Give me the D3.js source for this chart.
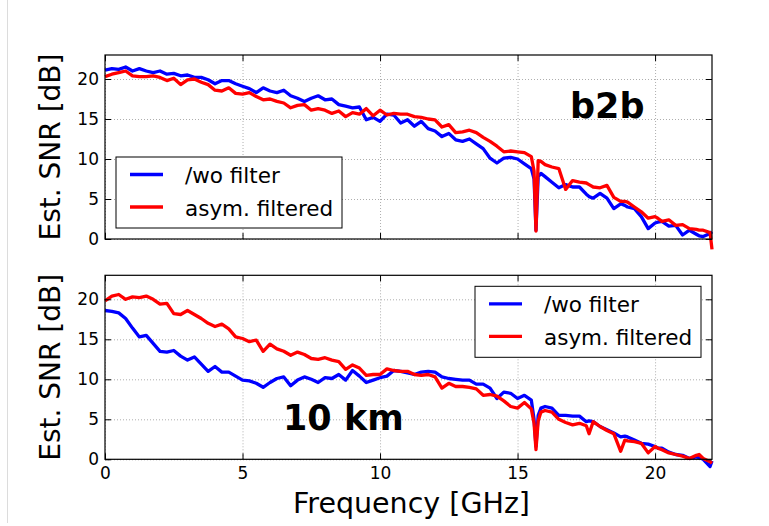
<!DOCTYPE html>
<html>
<head>
<meta charset="utf-8">
<script src="https://cdn.jsdelivr.net/npm/d3@7"></script>
<style>
  body { margin: 0; background: #fff; }
  svg { font-family: "DejaVu Sans", sans-serif; }
</style>
</head>
<body>
<div id="chart"></div>
<script>
// frequency grid [GHz] shared by all four curves
const freq = [0,0.25,0.5,0.75,1,1.25,1.5,1.75,2,2.25,2.5,2.75,3,3.25,3.5,3.75,4,4.25,4.5,4.75,
  5,5.25,5.5,5.75,6,6.25,6.5,6.75,7,7.25,7.5,7.75,8,8.25,8.5,8.75,9,9.25,9.5,9.75,
  10,10.25,10.5,10.75,11,11.25,11.5,11.75,12,12.25,12.5,12.75,13,13.25,13.5,13.75,14,14.25,14.5,14.75,
  15,15.25,15.5,15.6,15.67,15.75,15.85,16,16.25,16.5,16.75,17,17.25,17.5,17.6,17.75,18,18.25,18.5,18.75,
  18.9,19,19.25,19.5,19.75,20,20.1,20.25,20.5,20.75,21,21.25,21.5,21.6,21.75,22,22.07];

// b2b
const b2bWo = [21.1,21.3,21.2,21.5,21.0,21.3,21.0,20.8,21.0,20.6,20.7,20.4,20.5,20.2,20.2,19.9,19.4,19.8,19.8,19.4,
  19.1,18.8,18.3,18.9,18.5,18.3,18.6,17.9,17.6,17.2,17.6,17.9,17.4,17.5,16.8,16.6,16.4,16.5,14.9,15.2,
  14.7,15.6,15.5,14.5,14.9,14.1,14.7,13.8,13.5,12.8,13.2,12.4,12.2,12.5,11.9,11.3,10.1,9.5,10.1,10.2,
  10.0,9.4,8.8,7.5,1.1,7.8,8.2,7.8,7.1,6.4,6.8,6.5,6.5,5.6,5.3,5.1,5.7,5.1,3.8,4.4,
  4.2,4.0,3.8,2.8,1.3,2.0,2.1,2.2,1.6,1.7,0.5,1.1,0.6,0.4,0.3,0.7,0.9];
const b2bAsym = [20.3,20.6,20.8,21.0,20.4,20.3,20.3,20.4,20.2,19.8,20.1,19.3,19.9,20.0,19.6,19.3,18.6,18.5,18.9,18.2,
  18.1,18.3,17.8,17.4,17.5,17.2,17.0,16.4,16.7,16.8,16.1,16.3,16.1,15.7,16.0,15.3,15.8,15.6,16.3,15.4,
  16.1,15.5,15.7,15.6,15.6,15.3,15.2,15.0,14.9,14.0,14.3,13.3,13.4,13.6,13.3,12.7,12.2,11.6,10.9,11.0,
  10.9,10.8,10.3,8.5,1.0,9.8,9.7,9.3,9.0,8.8,6.2,7.3,7.1,7.0,6.8,6.5,6.4,6.7,5.2,4.7,
  4.7,4.6,4.0,3.4,2.6,2.8,2.6,2.2,2.4,1.7,1.8,1.3,1.2,1.1,1.1,0.8,-1.3];

// 10 km
const kmWo = [18.6,18.5,18.3,17.6,16.4,15.3,15.5,14.5,13.5,13.4,13.6,12.9,12.4,12.8,11.9,11.0,11.6,10.9,10.9,10.4,
  9.9,9.8,9.5,9.0,9.6,10.1,10.3,9.2,9.9,10.3,10.0,9.6,10.2,10.1,10.6,9.9,11.1,10.4,9.6,9.9,
  10.2,10.4,11.1,11.0,10.8,10.6,10.9,11.0,10.9,10.3,10.1,10.0,9.9,9.9,9.4,9.4,8.9,7.6,8.4,8.25,
  7.6,8.0,7.4,5.0,1.6,5.5,6.4,6.6,6.4,5.5,5.5,5.4,5.4,4.7,4.8,4.7,4.1,3.7,3.3,2.8,
  2.9,2.8,2.4,2.0,1.9,1.6,1.4,1.4,0.9,0.6,0.5,0.1,0.3,0.2,0.0,-0.9,-0.2];
const kmAsym = [19.8,20.4,20.6,20.0,20.3,20.2,20.4,20.0,19.4,19.5,18.2,18.1,18.6,18.1,17.6,17.0,16.6,16.9,16.3,15.3,
  15.1,14.7,14.9,13.5,14.4,13.8,13.5,13.0,13.4,13.1,12.6,12.5,12.7,12.4,12.2,11.25,11.8,11.4,10.5,10.6,
  10.6,11.3,11.1,11.0,11.0,10.6,10.5,10.6,10.3,8.9,9.5,9.1,9.1,9.0,8.8,8.0,8.1,7.9,7.3,6.6,
  6.4,7.1,6.3,4.5,1.2,4.8,5.9,6.1,5.9,5.0,4.6,4.3,4.5,4.2,3.2,4.7,4.1,3.6,3.2,1.0,
  2.4,2.3,2.2,2.0,0.8,1.6,1.4,1.2,0.8,0.6,0.4,0.1,0.5,0.6,0.1,-0.3,-0.5];

const seriesNames = ['/wo filter', 'asym. filtered'];
const seriesColors = ['#0000ff', '#ff0000'];
const xTicks = [0, 5, 10, 15, 20];
const yTicks = [0, 5, 10, 15, 20];

const width = 769, height = 526;
const margin = { left: 105, right: 57 };
const innerWidth = width - margin.left - margin.right;
const panelH = 184;

const svg = d3.select('#chart').append('svg')
  .attr('width', width)
  .attr('height', height);

// faint figure edge on the left
svg.append('line')
  .attr('x1', 7.5).attr('x2', 7.5).attr('y1', 0).attr('y2', 523)
  .attr('stroke', '#dcdcdc').attr('stroke-width', 1);

const xScale = d3.scaleLinear().domain([0, 22.07]).range([0, innerWidth]);
const yScale = d3.scaleLinear().domain([0, 23]).range([panelH, 0]);

const drawPanel = (top, wo, asym, opts) => {
  const g = svg.append('g').attr('transform', `translate(${margin.left},${top})`);

  // dotted grid
  const gx = g.append('g').attr('transform', `translate(0,${panelH})`)
    .call(d3.axisBottom(xScale).tickValues(xTicks).tickSize(-panelH).tickFormat(''));
  const gy = g.append('g')
    .call(d3.axisLeft(yScale).tickValues(yTicks).tickSize(-innerWidth).tickFormat(''));
  [gx, gy].forEach(a => {
    a.select('.domain').remove();
    a.selectAll('text').remove();
    a.selectAll('line').attr('stroke', '#999').attr('stroke-width', 0.8).attr('stroke-dasharray', '1,2');
  });

  // curves
  const line = d3.line()
    .x((d, i) => xScale(freq[i]))
    .y(d => yScale(d));
  [wo, asym].forEach((s, k) => {
    g.append('path').datum(s)
      .attr('fill', 'none')
      .attr('stroke', seriesColors[k])
      .attr('stroke-width', 3.3)
      .attr('stroke-linejoin', 'round')
      .attr('d', line);
  });

  // ticks pointing inwards on every side
  const axes = [
    [d3.axisLeft(yScale).tickValues(yTicks).tickSize(-6).tickPadding(6), '', true],
    [d3.axisRight(yScale).tickValues(yTicks).tickSize(-6), `translate(${innerWidth},0)`, false],
    [d3.axisTop(xScale).tickValues(xTicks).tickSize(-6), '', false],
    [d3.axisBottom(xScale).tickValues(xTicks).tickSize(-6).tickPadding(8), `translate(0,${panelH})`, opts.xLabels]
  ];
  axes.forEach(([ax, tr, labels]) => {
    const a = g.append('g').attr('transform', tr).call(ax);
    a.select('.domain').remove();
    a.selectAll('line').attr('stroke', '#000').attr('stroke-width', 1);
    if (!labels) a.selectAll('text').remove();
    a.selectAll('text').attr('font-size', 17).attr('fill', '#000')
      .attr('font-family', '"DejaVu Sans", sans-serif');
  });

  g.append('rect')
    .attr('width', innerWidth).attr('height', panelH)
    .attr('fill', 'none').attr('stroke', '#000').attr('stroke-width', 1.2);

  // y label
  g.append('text')
    .attr('transform', `translate(-45,${panelH / 2}) rotate(-90)`)
    .attr('text-anchor', 'middle')
    .attr('font-size', 28)
    .text('Est. SNR [dB]');

  // legend
  const lg = g.append('g').attr('transform', `translate(${opts.legend[0]},${opts.legend[1]})`);
  lg.append('rect').attr('width', 226).attr('height', 71)
    .attr('fill', '#fff').attr('stroke', '#000').attr('stroke-width', 1);
  seriesNames.forEach((name, k) => {
    const row = 17.5 + k * 32.5;
    lg.append('line').attr('x1', 14).attr('x2', 47).attr('y1', row).attr('y2', row)
      .attr('stroke', seriesColors[k]).attr('stroke-width', 3.3);
    lg.append('text').attr('x', 69).attr('y', row + 8.5)
      .attr('font-size', 21.5).text(name);
  });

  // panel tag
  g.append('text')
    .attr('x', opts.tag[0]).attr('y', opts.tag[1])
    .attr('font-size', 35).attr('font-weight', 'bold')
    .text(opts.tag[2]);

  return g;
};

drawPanel(55, b2bWo, b2bAsym, { xLabels: false, legend: [11, 102], tag: [465, 63, 'b2b'] });
const bottom = drawPanel(275.3, kmWo, kmAsym, { xLabels: true, legend: [370, 11], tag: [178, 155, '10 km'] });

bottom.append('text')
  .attr('x', innerWidth / 2 + 3)
  .attr('y', panelH + 54)
  .attr('text-anchor', 'middle')
  .attr('font-size', 28.5)
  .text('Frequency [GHz]');
</script>
</body>
</html>
